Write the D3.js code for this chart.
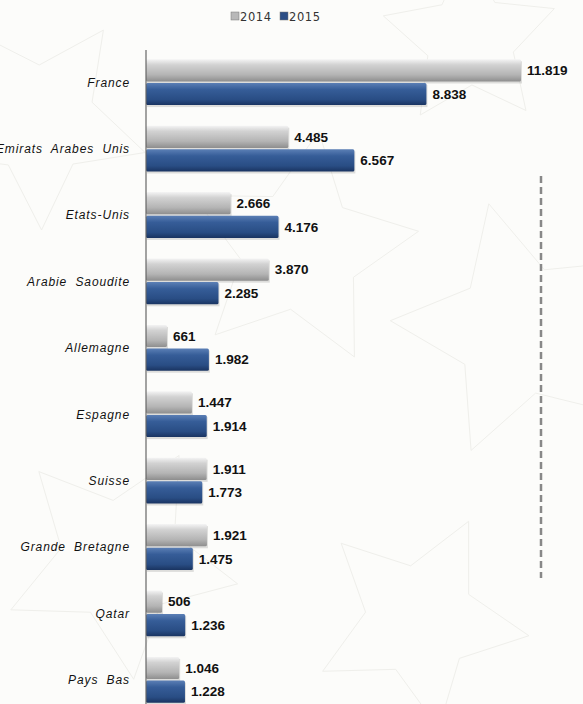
<!DOCTYPE html>
<html>
<head>
<meta charset="utf-8">
<script src="https://cdn.jsdelivr.net/npm/d3@7"></script>
<style>
  html, body { margin: 0; padding: 0; background: #fcfcfa; }
  svg { display: block; }
</style>
</head>
<body>
<div id="chart"></div>
<script>
// Chart data
const countries = ['France', 'Emirats Arabes Unis', 'Etats-Unis', 'Arabie Saoudite', 'Allemagne',
                   'Espagne', 'Suisse', 'Grande Bretagne', 'Qatar', 'Pays Bas'];
const years = ['2014', '2015'];
const values2014 = [11819, 4485, 2666, 3870, 661, 1447, 1911, 1921, 506, 1046];
const values2015 = [8838, 6567, 4176, 2285, 1982, 1914, 1773, 1475, 1236, 1228];

const width = 583, height = 704;
const axisX = 146;

const svg = d3.select('#chart').append('svg')
  .attr('width', width)
  .attr('height', height);

// gradients for the bevelled bars
const defs = svg.append('defs');
function addGradient(id, stops) {
  const g = defs.append('linearGradient').attr('id', id)
    .attr('x1', 0).attr('y1', 0).attr('x2', 0).attr('y2', 1);
  stops.forEach(s => g.append('stop').attr('offset', s[0]).attr('stop-color', s[1]));
}
addGradient('grey', [[0, '#f4f4f4'], [0.25, '#d2d2d2'], [0.7, '#b4b4b4'], [1, '#8e8e8e']]);
addGradient('blue', [[0, '#5b7fb5'], [0.3, '#365d98'], [0.75, '#294d84'], [1, '#1a3461']]);

// faint star pattern in the background
const bg = svg.append('g').attr('fill', 'none').attr('stroke', '#efefeb').attr('stroke-width', 1);
function star(cx, cy, r, rot) {
  const pts = d3.range(10).map(i => {
    const a = rot + i * Math.PI / 5;
    const rr = i % 2 ? r * 0.5 : r;
    return [cx + rr * Math.cos(a), cy + rr * Math.sin(a)];
  });
  bg.append('path').attr('d', d3.line()(pts) + 'Z');
}
star(40, 120, 110, 0.3);
star(300, 250, 120, 1.1);
star(520, 330, 130, 0.7);
star(120, 560, 120, 0.2);
star(420, 620, 110, 1.4);
star(470, 40, 90, 0.9);

// scales
const x = d3.scaleLinear().domain([0, 11819]).range([axisX, 521]);
const y = d3.scaleBand().domain(countries).range([49, 713]).paddingInner(0.31).paddingOuter(0.155);
const ySub = d3.scaleBand().domain(years).range([0, y.bandwidth()]).paddingInner(0.06);
const fills = {'2014': 'url(#grey)', '2015': 'url(#blue)'};

const rows = countries.map((c, i) => ({
  country: c,
  bars: [{year: '2014', value: values2014[i]}, {year: '2015', value: values2015[i]}]
}));

const groups = svg.append('g').selectAll('g.row')
  .data(rows).join('g')
  .attr('class', 'row')
  .attr('transform', d => `translate(0,${y(d.country)})`);

// shadows
groups.selectAll('rect.shadow')
  .data(d => d.bars).join('rect')
  .attr('class', 'shadow')
  .attr('x', x(0) + 1)
  .attr('y', d => ySub(d.year) + 2)
  .attr('width', d => x(d.value) - x(0))
  .attr('height', ySub.bandwidth())
  .attr('fill', '#000').attr('opacity', 0.12);

groups.selectAll('rect.bar')
  .data(d => d.bars).join('rect')
  .attr('class', 'bar')
  .attr('x', x(0))
  .attr('y', d => ySub(d.year))
  .attr('width', d => x(d.value) - x(0))
  .attr('height', ySub.bandwidth())
  .attr('rx', 1.5)
  .attr('fill', d => fills[d.year]);

const fmt = v => d3.format(',')(v).replace(/,/g, '.');

groups.selectAll('text.val')
  .data(d => d.bars).join('text')
  .attr('class', 'val')
  .attr('x', d => x(d.value) + 6)
  .attr('y', d => ySub(d.year) + ySub.bandwidth() / 2)
  .attr('dy', '0.36em')
  .attr('font-family', 'Liberation Sans, Arial, sans-serif')
  .attr('font-weight', 'bold')
  .attr('font-size', 13.5)
  .attr('fill', '#111')
  .text(d => fmt(d.value));

// category labels
groups.append('text')
  .attr('x', axisX - 16)
  .attr('y', y.bandwidth() / 2)
  .attr('dy', '0.36em')
  .attr('text-anchor', 'end')
  .attr('font-family', 'Liberation Sans, Arial, sans-serif')
  .attr('font-style', 'italic')
  .attr('font-size', 12)
  .attr('letter-spacing', 0.9)
  .attr('word-spacing', 4)
  .attr('fill', '#111')
  .text(d => d.country);

// vertical axis line
svg.append('line')
  .attr('x1', axisX).attr('x2', axisX)
  .attr('y1', 50).attr('y2', height)
  .attr('stroke', '#666').attr('stroke-width', 1.2);

// dashed separator on the right
svg.append('line')
  .attr('x1', 541).attr('x2', 541)
  .attr('y1', 176).attr('y2', 578)
  .attr('stroke', '#888').attr('stroke-width', 2.5)
  .attr('stroke-dasharray', '7,4');

// legend
const legendColors = {'2014': '#b8b8b8', '2015': '#2c4e85'};
const legend = svg.append('g').attr('transform', 'translate(231,10)');
const lg = legend.selectAll('g').data(years).join('g')
  .attr('transform', (d, i) => `translate(${i * 49},0)`);
lg.append('rect')
  .attr('width', 8).attr('height', 8).attr('y', 2)
  .attr('fill', d => legendColors[d]).attr('stroke', '#777').attr('stroke-width', 0.5);
lg.append('text')
  .attr('x', 9).attr('y', 10.5)
  .attr('font-family', 'DejaVu Sans, sans-serif')
  .attr('font-size', 11.5)
  .attr('letter-spacing', 0.6)
  .attr('fill', '#333')
  .text(d => d);
</script>
</body>
</html>
